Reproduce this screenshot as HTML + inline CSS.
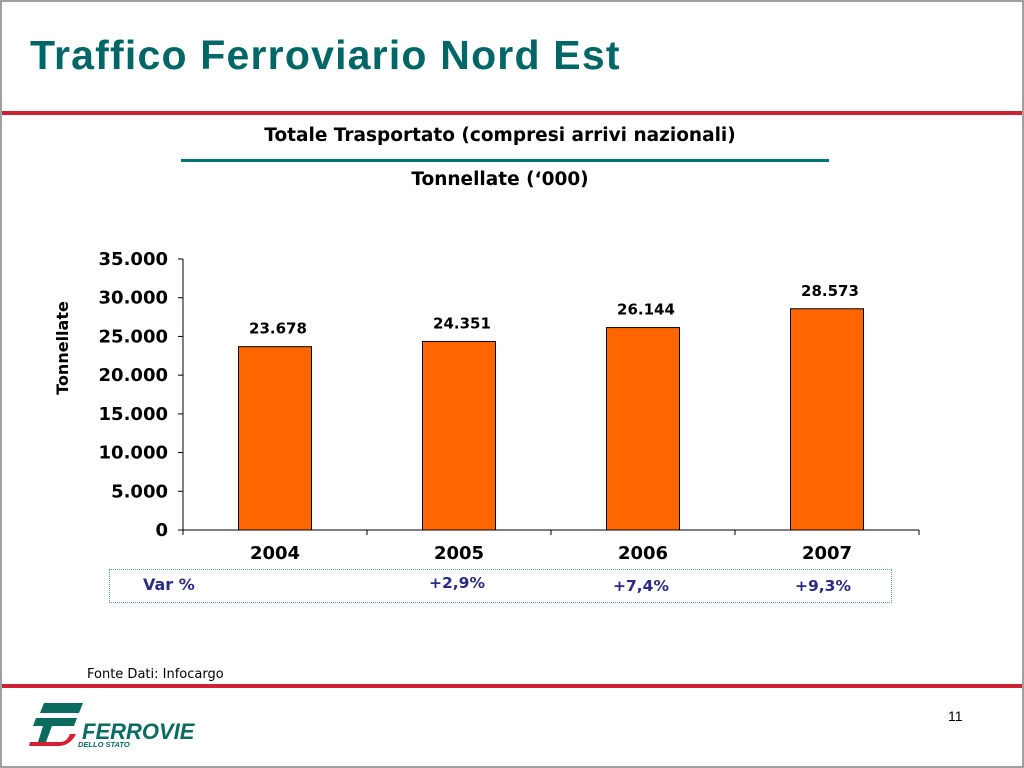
<!DOCTYPE html>
<html><head><meta charset="utf-8">
<style>
body{margin:0;width:1024px;height:768px;overflow:hidden;background:#fff;font-family:"DejaVu Sans","Liberation Sans",sans-serif;}
#frame{position:absolute;left:0;top:0;width:1020px;height:764px;border:2px solid #a0a0a0;}
.abs{position:absolute;}
</style></head><body>
<div id="frame"></div>
<div class="abs" style="left:30px;top:32px;font:bold 41px 'Liberation Sans',sans-serif;letter-spacing:1.2px;color:#006666;">Traffico Ferroviario Nord Est</div>
<div class="abs" style="left:2px;top:111px;width:1020px;height:4px;background:#cc2233;"></div>
<div class="abs" style="left:150px;width:700px;top:125px;text-align:center;font-weight:bold;font-size:18.5px;">Totale Trasportato (compresi arrivi nazionali)</div>
<div class="abs" style="left:181px;top:159px;width:648px;height:3px;background:#007777;"></div>
<div class="abs" style="left:150px;width:700px;top:169px;text-align:center;font-weight:bold;font-size:18.5px;">Tonnellate (‘000)</div>
<svg class="abs" style="left:0;top:0" width="1024" height="768" id="chart"></svg>
<div class="abs" style="left:109px;top:569px;width:781px;height:32px;border:1px dotted #5a9a9a;"></div>
<div class="abs" style="left:143px;top:575px;font-weight:bold;font-size:16px;color:#2a2a88;">Var %</div>
<div class="abs" style="left:87px;top:667px;font-size:13px;">Fonte Dati: Infocargo</div>
<div class="abs" style="left:2px;top:684px;width:1020px;height:4px;background:#cc2233;"></div>
<div class="abs" style="left:948px;top:708px;font:14px 'Liberation Sans',sans-serif;">11</div>
<svg class="abs" style="left:0;top:690px" width="200" height="70">
<path d="M44 13 L83 13 L79 23 L40 23 Z" fill="#0a6b5e"/>
<path d="M36 28 L77 28 L74 36 L52 36 L46 52 L38 52 L43 36 L33 36 Z" fill="#0a6b5e"/>
<path d="M30 52 L60 52 C66 52 68 48 70 44 L76 44 C72 52 66 56 58 56 L29 56 Z" fill="#d42030"/>
<text x="82" y="49" font-family="Liberation Sans,sans-serif" font-weight="bold" font-style="italic" font-size="22" fill="#0a6b5e">FERROVIE</text>
<text x="78" y="57" font-family="Liberation Sans,sans-serif" font-weight="bold" font-style="italic" font-size="7.5" fill="#0a6b5e">DELLO STATO</text>
</svg>
<script>
const years=["2004","2005","2006","2007"];
const values=[23678,24351,26144,28573];
const valueLabels=["23.678","24.351","26.144","28.573"];
const yTicks=[0,5000,10000,15000,20000,25000,30000,35000];
const yTickLabels=["0","5.000","10.000","15.000","20.000","25.000","30.000","35.000"];
const varLabels=["","+2,9%","+7,4%","+9,3%"];
const NS="http://www.w3.org/2000/svg";
const svg=document.getElementById('chart');
const x0=183,x1=919,y0=530,y1=259,yMax=35000;
const yS=v=>y0-(y0-y1)*v/yMax;
const bw=(x1-x0)/years.length;
const xC=i=>x0+bw*(i+0.5);
function mk(t,a,txt){const e=document.createElementNS(NS,t);for(const k in a)e.setAttribute(k,a[k]);if(txt!==undefined)e.textContent=txt;svg.appendChild(e);return e;}
let e;
e=mk('line',{x1:x0,y1:y1,x2:x0,y2:y0,stroke:'#000'});


e=mk('line',{x1:x0,y1:y0,x2:x1,y2:y0,stroke:'#000'});


yTicks.forEach((t,i)=>{
 e=mk('line',{x1:x0-5,y1:yS(t),x2:x0,y2:yS(t),stroke:'#000'});
 
 
 e=mk('text',{x:x0-15,y:yS(t)+6,'text-anchor':'end','font-weight':'bold','font-size':'18','font-family':'DejaVu Sans,sans-serif'},yTickLabels[i]);
 
 
});
for(let i=0;i<=years.length;i++){
 e=mk('line',{x1:x0+bw*i,y1:y0,x2:x0+bw*i,y2:y0+5,stroke:'#000'});
 
 
}
years.forEach((y,i)=>{
 const h=y0-yS(values[i]);
 e=mk('rect',{x:xC(i)-36.5,y:yS(values[i]),width:73,height:h,fill:'#ff6600',stroke:'#000','stroke-width':1});
 
 
 e=mk('text',{x:xC(i)+3,y:yS(values[i])-13,'text-anchor':'middle','font-weight':'bold','font-size':'15','font-family':'DejaVu Sans,sans-serif'},valueLabels[i]);
 
 
 e=mk('text',{x:xC(i),y:559,'text-anchor':'middle','font-weight':'bold','font-size':'18','font-family':'DejaVu Sans,sans-serif'},y);
 
 
 if(varLabels[i]){
  e=mk('text',{x:xC(i)-(i==3?4:2),y:i==1?588:591,'text-anchor':'middle','font-weight':'bold','font-size':'15.5',fill:'#2a2a88','font-family':'DejaVu Sans,sans-serif'},varLabels[i]);
  
  
 }
});
e=mk('text',{x:0,y:0,transform:'translate(68,348) rotate(-90)','text-anchor':'middle','font-weight':'bold','font-size':'16','font-family':'DejaVu Sans,sans-serif'},'Tonnellate');


</script>
</body></html>
